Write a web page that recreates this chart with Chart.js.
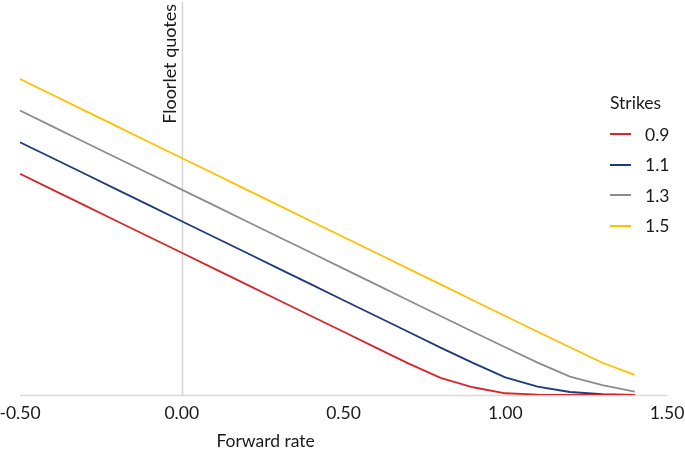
<!DOCTYPE html>
<html>
<head>
<meta charset="utf-8">
<script src="https://cdn.jsdelivr.net/npm/chart.js@4"></script>
<style>
  html, body { margin: 0; padding: 0; background: #fff; }
  #wrap { position: relative; width: 685px; height: 453px; }
  #legend { position: absolute; left: 610px; top: 92px; font-family: Lato, "Open Sans", sans-serif; color: #1a1a1a; }
  #legend .title { font-size: 17.5px; margin-bottom: 6px; }
  #legend .item { display: flex; align-items: center; height: 30.5px; font-size: 17.5px; }
  #legend .swatch { width: 21px; height: 2px; margin-right: 14px; }
</style>
</head>
<body>
<div id="wrap">
  <canvas id="c" width="685" height="453"></canvas>
  <div id="legend"></div>
</div>
<script>
// Forward rates (x) and floorlet values per strike
const forwardRates = [-0.5,-0.4,-0.3,-0.2,-0.1,0.0,0.1,0.2,0.3,0.4,0.5,0.6,0.7,0.8,0.9,1.0,1.1,1.2,1.3,1.4];
const strikes = ['0.9','1.1','1.3','1.5'];
const floor09 = [1.4,1.3,1.2,1.1,1.0,0.9,0.8,0.7,0.6,0.5,0.4,0.3,0.2,0.108,0.049,0.011,0.003,0.001,0,0];
const floor11 = [1.6,1.5,1.4,1.3,1.2,1.1,1.0,0.9,0.8,0.7,0.6,0.5,0.4,0.3,0.203,0.112,0.053,0.019,0.005,0.001];
const floor13 = [1.8,1.7,1.6,1.5,1.4,1.3,1.2,1.1,1.0,0.9,0.8,0.7,0.6,0.5,0.4,0.302,0.205,0.116,0.062,0.021];
const floor15 = [2.0,1.9,1.8,1.7,1.6,1.5,1.4,1.3,1.2,1.1,1.0,0.9,0.8,0.7,0.6,0.5,0.4,0.302,0.204,0.127];
const xTicks = [-0.5, 0, 0.5, 1.0, 1.5];
const colors = ['#d6262b', '#1f3a78', '#8c8c8c', '#ffc000'];
const markerLabel = 'Floorlet quotes';
const xTitle = 'Forward rate';

const seriesValues = [floor09, floor11, floor13, floor15];
const datasets = strikes.map((s, i) => ({
  label: s,
  data: forwardRates.map((x, j) => ({x: x, y: seriesValues[i][j]})),
  borderColor: colors[i],
  backgroundColor: colors[i],
  borderWidth: 1.8,
  pointRadius: 0,
  tension: 0,
  fill: false
}));

const FONT = 'Lato, "Open Sans", sans-serif';

const overlay = {
  id: 'overlay',
  beforeDatasetsDraw(chart) {
    const ctx = chart.ctx;
    const xs = chart.scales.x, ys = chart.scales.y;
    const x0 = Math.round(xs.getPixelForValue(0)) + 0.5;
    ctx.save();
    ctx.strokeStyle = '#d4d4d4';
    ctx.lineWidth = 1.5;
    ctx.beginPath();
    ctx.moveTo(x0, chart.chartArea.top + 2);
    ctx.lineTo(x0, ys.getPixelForValue(0));
    ctx.stroke();
    ctx.strokeStyle = '#d9d9d9';
    ctx.beginPath();
    const yb = Math.round(ys.getPixelForValue(0)) + 0.5;
    ctx.moveTo(xs.getPixelForValue(-0.5), yb);
    ctx.lineTo(xs.getPixelForValue(1.5), yb);
    ctx.stroke();
    ctx.restore();
  },
  afterDraw(chart) {
    const ctx = chart.ctx;
    const xs = chart.scales.x;
    const x0 = xs.getPixelForValue(0);
    ctx.save();
    ctx.fillStyle = '#1a1a1a';
    ctx.font = '18px ' + FONT;
    ctx.translate(x0 - 12, 4);
    ctx.rotate(-Math.PI / 2);
    ctx.textAlign = 'right';
    ctx.textBaseline = 'middle';
    ctx.fillText(markerLabel, 0, 0);
    ctx.restore();
    ctx.save();
    ctx.fillStyle = '#1a1a1a';
    ctx.font = '17.5px ' + FONT;
    ctx.textAlign = 'center';
    ctx.textBaseline = 'middle';
    ctx.fillText(xTitle, (xs.getPixelForValue(0) + xs.getPixelForValue(0.5)) / 2 + 3, 441);
    ctx.restore();
  }
};

const chart = new Chart(document.getElementById('c'), {
  type: 'line',
  data: { datasets },
  options: {
    responsive: false,
    animation: false,
    layout: { padding: { left: 20, right: 18, top: 0, bottom: 0 } },
    plugins: { legend: { display: false }, tooltip: { enabled: false } },
    scales: {
      x: {
        type: 'linear', min: -0.5, max: 1.5,
        afterBuildTicks(scale) { scale.ticks = xTicks.map(v => ({value: v})); },
        afterFit(scale) { scale.paddingLeft = 0; scale.paddingRight = 0; scale.height = 58; },
        ticks: { color: '#1a1a1a', font: { family: FONT, size: 17.5 }, padding: 8, maxRotation: 0,
                 callback: v => v.toFixed(2) },
        grid: { display: false, drawTicks: false },
        border: { display: false }
      },
      y: {
        type: 'linear', min: 0, max: 2.5, display: false
      }
    }
  },
  plugins: [overlay]
});

const lg = document.getElementById('legend');
lg.innerHTML = '<div class="title">Strikes</div>' +
  chart.data.datasets.map(d => '<div class="item"><span class="swatch" style="background:' + d.borderColor + '"></span>' + d.label + '</div>').join('');
</script>
</body>
</html>
